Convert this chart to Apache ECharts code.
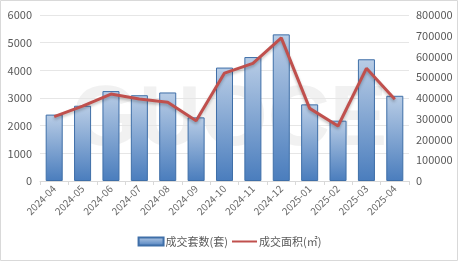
<!DOCTYPE html>
<html><head><meta charset="utf-8">
<script src="https://cdn.jsdelivr.net/npm/echarts@6/dist/echarts.min.js"></script>
<style>html,body{margin:0;padding:0;background:#fff}#c{width:459px;height:262px}</style>
</head><body><div id="c"></div>
<script>
const categories = ['2024-04','2024-05','2024-06','2024-07','2024-08','2024-09','2024-10','2024-11','2024-12','2025-01','2025-02','2025-03','2025-04'];
const units = [2400,2720,3250,3100,3200,2300,4100,4480,5300,2770,2180,4400,3080];
const area = [310000,361000,419000,395000,379000,290000,520000,567000,690000,350000,265000,543000,394000];
const leftTicks = [0,1000,2000,3000,4000,5000,6000];
const rightTicks = [0,100000,200000,300000,400000,500000,600000,700000,800000];

const chart = echarts.init(document.getElementById('c'));
const font = 'Microsoft YaHei, "Noto Sans CJK SC", sans-serif';
chart.setOption({
  animation:false,
  graphic:[
    {type:'rect',shape:{x:0.5,y:0.5,width:457,height:260},style:{fill:'none',stroke:'#d9d9d9',lineWidth:1},z:-10},
    {type:'text',left:'center',top:78,style:{text:'GUOCE',fontSize:86,fontWeight:'bold',fill:'rgba(205,205,205,0.28)',fontFamily:'Arial'},z:-5}
  ],
  grid:{left:40,right:50,top:15,bottom:81},
  legend:{bottom:10,left:'center',itemWidth:25,itemHeight:8,itemGap:3,
    textStyle:{fontSize:11,color:'#595959',fontFamily:font,padding:[0,0,0,-3]},
    data:[{name:'成交套数(套)',icon:'rect'},{name:'成交面积(㎡)',itemStyle:{opacity:0}}]},
  xAxis:{type:'category',data:categories,
    axisLine:{lineStyle:{color:'#d9d9d9'}},
    axisTick:{show:true,lineStyle:{color:'#d9d9d9'},length:4},
    axisLabel:{rotate:45,fontSize:10,color:'#6a6a6a',margin:6,fontFamily:font}},
  yAxis:[
    {type:'value',min:0,max:6000,interval:1000,
      axisLabel:{fontSize:11,color:'#595959',margin:8,fontFamily:font,formatter:v=>String(v)},
      splitLine:{lineStyle:{color:'#e6e6e6'}},axisLine:{show:false},axisTick:{show:false}},
    {type:'value',min:0,max:800000,interval:100000,
      axisLabel:{fontSize:11,color:'#595959',margin:7,fontFamily:font,formatter:v=>String(v)},
      splitLine:{show:false},axisLine:{show:false},axisTick:{show:false}}
  ],
  series:[
    {name:'成交套数(套)',type:'bar',data:units,barWidth:'60%',yAxisIndex:0,
      itemStyle:{borderColor:'#3f6fa8',borderWidth:1,
        color:new echarts.graphic.LinearGradient(0,0,0,1,[{offset:0,color:'#b9cde6'},{offset:1,color:'#4a7dbd'}])}},
    {name:'成交面积(㎡)',type:'line',data:area,yAxisIndex:1,symbol:'none',
      lineStyle:{color:'#c0504d',width:3,shadowColor:'rgba(0,0,0,0.25)',shadowBlur:3,shadowOffsetY:2},
      itemStyle:{color:'#c0504d'}}
  ]
});
</script></body></html>
